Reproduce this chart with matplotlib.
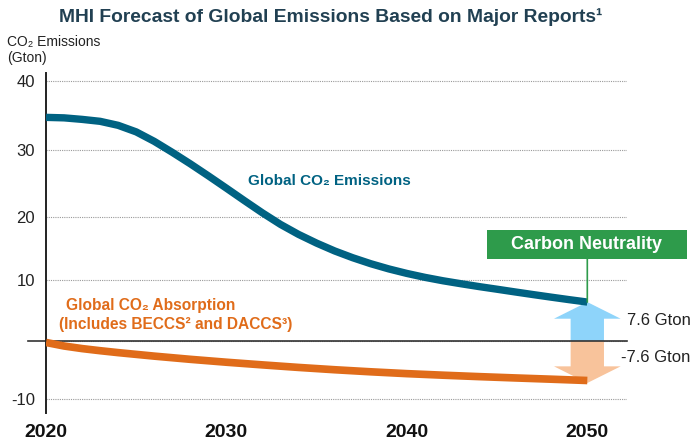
import numpy as np
import matplotlib
matplotlib.use("Agg")
import matplotlib.pyplot as plt
from matplotlib.patches import Rectangle

plt.rcParams['font.family'] = ['Liberation Sans', 'DejaVu Sans']

# values (Gton)
years = list(range(2020, 2051))
emissions = [34.80, 34.73, 34.51, 34.23, 33.65, 32.70, 31.32, 29.71, 28.01, 26.22, 24.37,
             22.48, 20.61, 18.84, 17.29, 15.93, 14.70, 13.63, 12.68, 11.85, 11.13,
             10.50, 9.95, 9.47, 9.01, 8.58, 8.14, 7.71, 7.29, 6.88, 6.49]
abs_years = [2020, 2021, 2022, 2023, 2024, 2025, 2026, 2028, 2030, 2032, 2034, 2036, 2038,
             2040, 2042, 2044, 2046, 2048, 2050]
absorption = [-0.25, -0.85, -1.29, -1.65, -1.98, -2.28, -2.58, -3.13, -3.63, -4.09, -4.53,
              -4.93, -5.29, -5.61, -5.88, -6.13, -6.36, -6.58, -6.81]
arrow_top = 6.49
arrow_bottom = -7.25
xticks = [2020, 2030, 2040, 2050]
yticks = [-10, 0, 10, 20, 30, 40]
ylabels = ['-10', '', '10', '20', '30', '40']

TEAL = '#006282'
ORANGE = '#e06c1a'
GREEN = '#2e9b4b'
DARK = '#222222'

# the original y axis is a little stretched towards the top
A, B = 5.9, 0.015
def fwd(y):
    return A * y + B * np.asarray(y) ** 2
def inv(f):
    return (-A + np.sqrt(np.maximum(A * A + 4 * B * np.asarray(f), 0))) / (2 * B)

fig = plt.figure(figsize=(6.97, 4.47), dpi=100)
ax = fig.add_axes([46 / 697, 1 - 413 / 447, 581 / 697, 340 / 447])
ax.set_yscale('function', functions=(fwd, inv))
ax.set_xlim(2020, 2052.2)
ax.set_ylim(-12.6, 41.1)

for s in ['top', 'right', 'bottom']:
    ax.spines[s].set_visible(False)
ax.spines['left'].set_color(DARK)
ax.spines['left'].set_linewidth(1.4)

ax.set_yticks(yticks)
ax.set_yticklabels(ylabels)
ax.set_xticks(xticks)
ax.set_xticklabels([str(t) for t in xticks], fontweight='bold')
ax.tick_params(axis='y', length=0, pad=8, labelsize=12, labelcolor=DARK)
ax.tick_params(axis='x', length=0, pad=8, labelsize=14, labelcolor='#111111')
ax.yaxis.grid(True, linestyle=(0, (1, 1)), color='#9a9a9a', linewidth=0.8)
ax.set_axisbelow(True)

ax.axhline(0, xmin=-18 / 581, xmax=1, color='#333333', lw=1.2, clip_on=False, zorder=2.5)

ax.plot(years, emissions, color=TEAL, lw=5.3, solid_capstyle='butt', zorder=3)
ax.plot(abs_years, absorption, color=ORANGE, lw=5.5, solid_capstyle='butt', zorder=3)

arrow = 'simple,head_length=1.2,head_width=4.8,tail_width=2.4'
ax.annotate('', xy=(2050, arrow_top), xytext=(2050, 0),
            arrowprops=dict(arrowstyle=arrow, mutation_scale=10, fc='#8ed4fa', ec='none',
                            shrinkA=0, shrinkB=0), zorder=2)
ax.annotate('', xy=(2050, arrow_bottom), xytext=(2050, 0),
            arrowprops=dict(arrowstyle=arrow, mutation_scale=10, fc='#f8c39b', ec='none',
                            shrinkA=0, shrinkB=0), zorder=2)

# carbon neutrality label
ax.add_patch(Rectangle((0.759, 0.453), 0.344, 0.0853, transform=ax.transAxes,
                       fc=GREEN, ec='none', clip_on=False, zorder=4))
ax.text(0.931, 0.4956, 'Carbon Neutrality', transform=ax.transAxes, ha='center', va='center',
        color='white', fontsize=13, fontweight='bold', zorder=5, clip_on=False)
ax.annotate('', xy=(2050, arrow_top), xycoords='data',
            xytext=(2050, 0.453), textcoords=('data', 'axes fraction'),
            arrowprops=dict(arrowstyle='-', color=GREEN, lw=1.2, shrinkA=0, shrinkB=0), zorder=4)

yt = ax.get_yaxis_transform()
ax.text(1.0, 3.5, '7.6 Gton', transform=yt, ha='left', va='center', fontsize=12,
        color=DARK, clip_on=False)
ax.text(0.9897, -2.9, '-7.6 Gton', transform=yt, ha='left', va='center', fontsize=12,
        color=DARK, clip_on=False)

ax.text(2035.7, 25.5, 'Global CO₂ Emissions', ha='center', va='center', color=TEAL,
        fontsize=11, fontweight='bold')
ax.text(2021.1, 6.0, 'Global CO₂ Absorption', ha='left', va='center', color=ORANGE,
        fontsize=11.2, fontweight='bold')
ax.text(2020.7, 2.7, '(Includes BECCS² and DACCS³)', ha='left', va='center', color=ORANGE,
        fontsize=11.2, fontweight='bold')

fig.text(331 / 697, 1 - 17 / 447, 'MHI Forecast of Global Emissions Based on Major Reports¹',
         ha='center', va='center', fontsize=13.9, fontweight='bold', color='#214052')
fig.text(7 / 697, 1 - 42 / 447, 'CO₂ Emissions', ha='left', va='center', fontsize=10, color=DARK)
fig.text(7 / 697, 1 - 58 / 447, '(Gton)', ha='left', va='center', fontsize=10, color=DARK)

fig.savefig('out.png', dpi=100)
